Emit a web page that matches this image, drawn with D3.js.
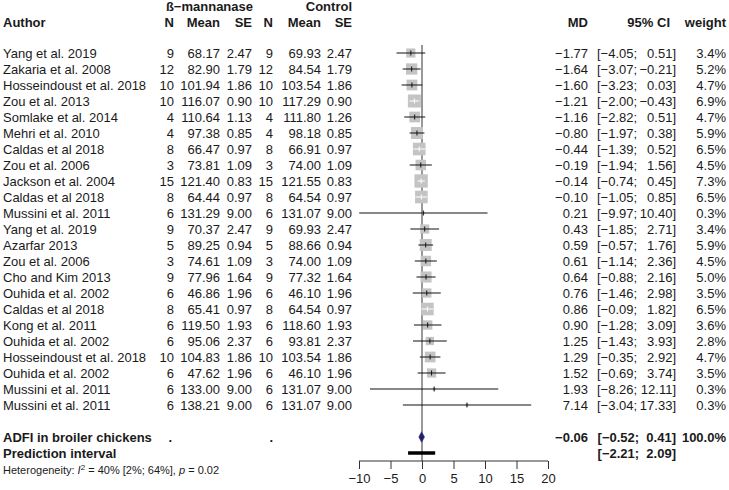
<!DOCTYPE html>
<html>
<head>
<meta charset="utf-8">
<script src="https://cdn.jsdelivr.net/npm/d3@7"></script>
<style>
  body { margin: 0; background: #fff; }
  text { font-family: "Liberation Sans", Arial, sans-serif; fill: #1a1a1a; white-space: pre; }
</style>
</head>
<body>
<div id="chart"></div>
<script>
const authors = ['Yang et al. 2019', 'Zakaria et al. 2008', 'Hosseindoust et al. 2018', 'Zou et al. 2013',
  'Somlake et al. 2014', 'Mehri et al. 2010', 'Caldas et al 2018', 'Zou et al. 2006', 'Jackson et al. 2004',
  'Caldas et al 2018', 'Mussini et al. 2011', 'Yang et al. 2019', 'Azarfar 2013', 'Zou et al. 2006',
  'Cho and Kim 2013', 'Ouhida et al. 2002', 'Caldas et al 2018', 'Kong et al. 2011', 'Ouhida et al. 2002',
  'Hosseindoust et al. 2018', 'Ouhida et al. 2002', 'Mussini et al. 2011', 'Mussini et al. 2011']
const nExp = [9, 12, 10, 10, 4, 4, 8, 3, 15, 8, 6, 9, 5, 3, 9, 6, 8, 6, 6, 10, 6, 6, 6]
const meanExp = [68.17, 82.90, 101.94, 116.07, 110.64, 97.38, 66.47, 73.81, 121.40, 64.44, 131.29, 70.37,
  89.25, 74.61, 77.96, 46.86, 65.41, 119.50, 95.06, 104.83, 47.62, 133.00, 138.21]
const seExp = [2.47, 1.79, 1.86, 0.90, 1.13, 0.85, 0.97, 1.09, 0.83, 0.97, 9.00, 2.47, 0.94, 1.09, 1.64,
  1.96, 0.97, 1.93, 2.37, 1.86, 1.96, 9.00, 9.00]
const nCtl = [9, 12, 10, 10, 4, 4, 8, 3, 15, 8, 6, 9, 5, 3, 9, 6, 8, 6, 6, 10, 6, 6, 6]
const meanCtl = [69.93, 84.54, 103.54, 117.29, 111.80, 98.18, 66.91, 74.00, 121.55, 64.54, 131.07, 69.93,
  88.66, 74.00, 77.32, 46.10, 64.54, 118.60, 93.81, 103.54, 46.10, 131.07, 131.07]
const seCtl = [2.47, 1.79, 1.86, 0.90, 1.26, 0.85, 0.97, 1.09, 0.83, 0.97, 9.00, 2.47, 0.94, 1.09, 1.64,
  1.96, 0.97, 1.93, 2.37, 1.86, 1.96, 9.00, 9.00]
const md = [-1.77, -1.64, -1.60, -1.21, -1.16, -0.80, -0.44, -0.19, -0.14, -0.10, 0.21, 0.43, 0.59, 0.61,
  0.64, 0.76, 0.86, 0.90, 1.25, 1.29, 1.52, 1.93, 7.14]
const ciLow = [-4.05, -3.07, -3.23, -2.00, -2.82, -1.97, -1.39, -1.94, -0.74, -1.05, -9.97, -1.85, -0.57,
  -1.14, -0.88, -1.46, -0.09, -1.28, -1.43, -0.35, -0.69, -8.26, -3.04]
const ciHigh = [0.51, -0.21, 0.03, -0.43, 0.51, 0.38, 0.52, 1.56, 0.45, 0.85, 10.40, 2.71, 1.76, 2.36,
  2.16, 2.98, 1.82, 3.09, 3.93, 2.92, 3.74, 12.11, 17.33]
const weight = [3.4, 5.2, 4.7, 6.9, 4.7, 5.9, 6.5, 4.5, 7.3, 6.5, 0.3, 3.4, 5.9, 4.5, 5.0, 3.5, 6.5, 3.6,
  2.8, 4.7, 3.5, 0.3, 0.3]
const pooled = [-0.06, -0.52, 0.41]
const predInt = [-2.21, 2.09]
const xTicks = [-10, -5, 0, 5, 10, 15, 20]

const W = 729, H = 490
const rowY0 = 53, rowH = 16
const fmt = v => (v < 0 ? '\u2212' : '') + Math.abs(v).toFixed(2)

const svg = d3.select('#chart').append('svg')
  .attr('width', W)
  .attr('height', H)

const x = d3.scaleLinear().domain([-10, 20]).range([359, 548])
const y = i => rowY0 + i * rowH

function txt(xp, yp, s, anchor, bold, size) {
  return svg.append('text')
    .attr('x', xp).attr('y', yp).attr('dy', '0.35em')
    .attr('text-anchor', anchor || 'start')
    .attr('font-size', size || 13)
    .attr('font-weight', bold ? 'bold' : 'normal')
    .text(s)
}

// headers
txt(253, 6, '\u00DF\u2212mannanase', 'end', true)
txt(352, 6, 'Control', 'end', true)
txt(3, 22, 'Author', 'start', true)
const hdr = [[174, 'N'], [220, 'Mean'], [252, 'SE'], [273, 'N'], [321, 'Mean'], [352, 'SE'],
  [588, 'MD'], [670, '95% CI'], [726, 'weight']]
hdr.forEach(h => txt(h[0], 22, h[1], 'end', true))

// zero line
svg.append('line')
  .attr('x1', x(0)).attr('x2', x(0))
  .attr('y1', 45).attr('y2', 461)
  .attr('stroke', '#555').attr('stroke-width', 1.2)

// study rows
authors.forEach((a, i) => {
  const yy = y(i)
  txt(3, yy, a)
  txt(174, yy, nExp[i], 'end')
  txt(220, yy, meanExp[i].toFixed(2), 'end')
  txt(252, yy, seExp[i].toFixed(2), 'end')
  txt(273, yy, nCtl[i], 'end')
  txt(321, yy, meanCtl[i].toFixed(2), 'end')
  txt(352, yy, seCtl[i].toFixed(2), 'end')
  txt(588, yy, fmt(md[i]), 'end')
  txt(597, yy, '[' + fmt(ciLow[i]) + ';', 'start')
  txt(676, yy, fmt(ciHigh[i]) + ']', 'end')
  txt(726, yy, weight[i].toFixed(1) + '%', 'end')

  const s = 13 * Math.sqrt(weight[i] / 6.9)
  svg.append('rect')
    .attr('x', x(md[i]) - s / 2).attr('y', yy - s / 2)
    .attr('width', s).attr('height', s)
    .attr('fill', '#c4c4c4')
  const inside = x(ciHigh[i]) - x(ciLow[i]) < s
  const col = inside ? '#fff' : '#111'
  svg.append('line')
    .attr('x1', x(ciLow[i])).attr('x2', x(ciHigh[i]))
    .attr('y1', yy).attr('y2', yy)
    .attr('stroke', col).attr('stroke-width', 1)
  svg.append('line')
    .attr('x1', x(md[i])).attr('x2', x(md[i]))
    .attr('y1', yy - 2.5).attr('y2', yy + 2.5)
    .attr('stroke', col).attr('stroke-width', 1)
})

// pooled row
const yP = 437
txt(3, yP, 'ADFI in broiler chickens', 'start', true)
txt(172, yP, '.', 'end', true)
txt(273, yP, '.', 'end', true)
txt(588, yP, fmt(pooled[0]), 'end', true)
txt(676, yP, '[' + fmt(pooled[1]) + ';  ' + fmt(pooled[2]) + ']', 'end', true)
txt(726, yP, '100.0%', 'end', true)
svg.append('path')
  .attr('d', `M${x(pooled[1])},${yP} L${x(pooled[0])},${yP - 5.5} L${x(pooled[2])},${yP} L${x(pooled[0])},${yP + 5.5} Z`)
  .attr('fill', '#1c1c7a').attr('stroke', '#555').attr('stroke-width', 0.5)

// prediction interval
const yPI = 453
txt(3, yPI, 'Prediction interval', 'start', true)
txt(676, yPI, '[' + fmt(predInt[0]) + ';  ' + fmt(predInt[1]) + ']', 'end', true)
svg.append('line')
  .attr('x1', x(predInt[0])).attr('x2', x(predInt[1]))
  .attr('y1', yPI).attr('y2', yPI)
  .attr('stroke', '#000').attr('stroke-width', 3.5)

// heterogeneity
const het = svg.append('text')
  .attr('x', 3).attr('y', 470).attr('dy', '0.35em')
  .attr('font-size', 11)
het.append('tspan').text('Heterogeneity: ')
het.append('tspan').attr('font-style', 'italic').text('I')
het.append('tspan').attr('font-size', 8).attr('dy', '-0.5em').text('2')
het.append('tspan').attr('dy', '0.35em').text(' = 40% [2%; 64%], ')
het.append('tspan').attr('font-style', 'italic').text('p')
het.append('tspan').text(' = 0.02')

// x axis
const axis = svg.append('g')
  .attr('transform', 'translate(0,461)')
  .call(d3.axisBottom(x).tickValues(xTicks).tickSize(8).tickPadding(5)
    .tickFormat(d => (d < 0 ? '\u2212' : '') + Math.abs(d)))
axis.select('.domain').attr('stroke', '#333').attr('d', `M${x(-10)},0H${x(20)}`)
axis.selectAll('.tick line').attr('stroke', '#333')
axis.selectAll('.tick text')
  .attr('font-size', 13)
  .attr('font-family', '"Liberation Sans", Arial, sans-serif')
  .attr('fill', '#1a1a1a')
</script>
</body>
</html>
